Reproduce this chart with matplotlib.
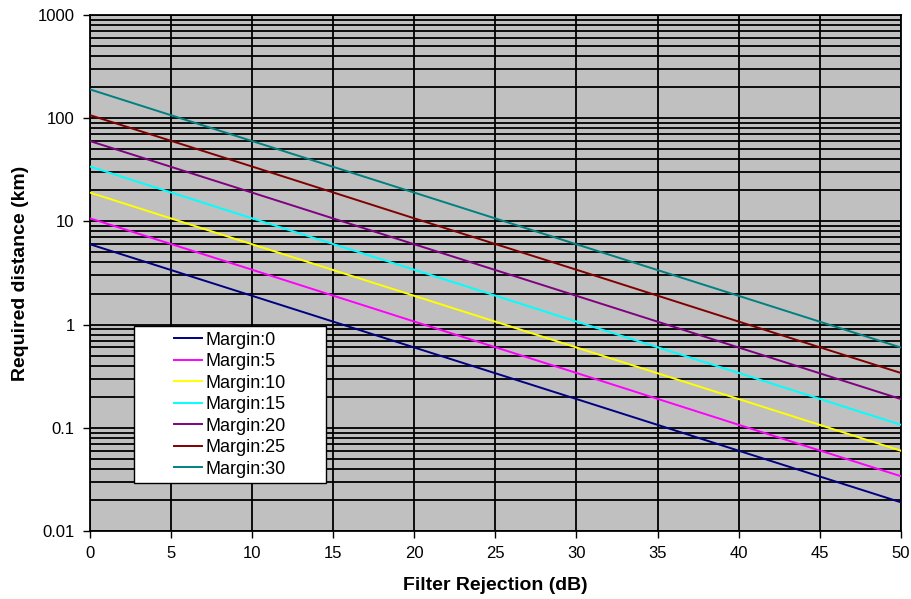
import matplotlib
matplotlib.use("Agg")
import matplotlib.pyplot as plt
from matplotlib.patches import Rectangle
from matplotlib.ticker import LogLocator, FixedLocator, NullFormatter

plt.rcParams['font.family'] = ['Liberation Sans', 'DejaVu Sans']

# данные
rejection = [0, 10, 20, 30, 40, 50]
margin_0 = [6.0, 1.9, 0.6, 0.19, 0.06, 0.019]
margin_5 = [10.7, 3.4, 1.07, 0.34, 0.107, 0.034]
margin_10 = [19, 6.0, 1.9, 0.6, 0.19, 0.06]
margin_15 = [34, 10.7, 3.4, 1.07, 0.34, 0.107]
margin_20 = [60, 19, 6.0, 1.9, 0.6, 0.19]
margin_25 = [107, 34, 10.7, 3.4, 1.07, 0.34]
margin_30 = [190, 60, 19, 6.0, 1.9, 0.6]

labels = ['Margin:0', 'Margin:5', 'Margin:10', 'Margin:15',
          'Margin:20', 'Margin:25', 'Margin:30']
series = [margin_0, margin_5, margin_10, margin_15, margin_20, margin_25, margin_30]
colors = ['#000080', '#FF00FF', '#FFFF00', '#00FFFF', '#800080', '#800000', '#008080']

fig = plt.figure(figsize=(9.12, 5.99), dpi=100)
ax = fig.add_axes([0.0987, 0.1135, 0.889, 0.8615])
ax.set_facecolor('#C0C0C0')

for y, c, lab in zip(series, colors, labels):
    ax.plot(rejection, y, color=c, lw=1.4, label=lab, zorder=3)

ax.set_yscale('log')
ax.set_xlim(0, 50)
ax.set_ylim(0.01, 1000)
ax.set_xticks(range(0, 51, 5))
ax.yaxis.set_major_locator(FixedLocator([0.01, 0.1, 1, 10, 100, 1000]))
ax.set_yticklabels(['0.01', '0.1', '1', '10', '100', '1000'])
ax.yaxis.set_minor_locator(LogLocator(base=10, subs=range(2, 10)))
ax.yaxis.set_minor_formatter(NullFormatter())

ax.grid(True, which='major', color='black', lw=1.3, zorder=1)
ax.grid(True, which='minor', axis='y', color='black', lw=1.3, zorder=1)
ax.tick_params(axis='y', which='minor', length=0)
ax.tick_params(which='major', direction='out', length=5, width=1, labelsize=12, pad=6)
for s in ax.spines.values():
    s.set_color('black')
    s.set_linewidth(1.3)

ax.set_xlabel('Filter Rejection (dB)', fontsize=14, fontweight='bold', labelpad=11)
ax.set_ylabel('Required distance (km)', fontsize=14, fontweight='bold', labelpad=6)

# рамка легенды
ax.add_patch(Rectangle((0.054, 0.093), 0.237, 0.304, transform=ax.transAxes,
                       facecolor='white', edgecolor='black', lw=1, zorder=4))
leg = ax.legend(loc='center', bbox_to_anchor=(0.1726, 0.245), fontsize=13,
                frameon=False, handlelength=1.5, handletextpad=0.2,
                labelspacing=0.25, borderpad=0, borderaxespad=0)
leg.set_zorder(5)

plt.savefig('out.png', dpi=100)
